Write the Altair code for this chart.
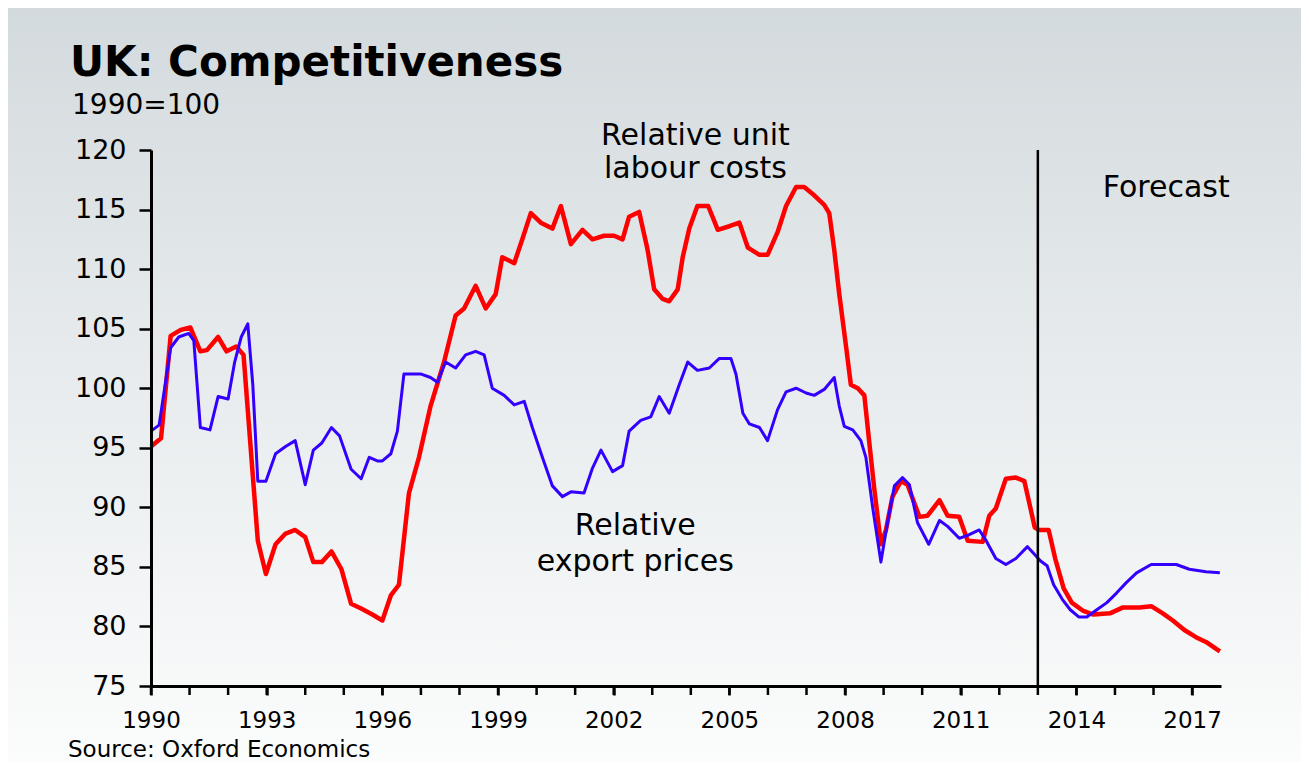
import altair as alt
import pandas as pd

# ---------------- data ----------------
red_years = [1990.00, 1990.26, 1990.51, 1990.77, 1991.02, 1991.28, 1991.45, 1991.74, 1991.96, 1992.21,
             1992.40, 1992.77, 1992.98, 1993.23, 1993.49, 1993.74, 1994.00, 1994.21, 1994.43, 1994.68,
             1994.94, 1995.19, 1995.45, 1995.74, 1996.00, 1996.22, 1996.43, 1996.69, 1996.95, 1997.25,
             1997.60, 1997.90, 1998.12, 1998.42, 1998.68, 1998.94, 1999.11, 1999.42, 1999.63, 1999.85,
             2000.11, 2000.41, 2000.63, 2000.89, 2001.19, 2001.45, 2001.75, 2002.01, 2002.23, 2002.40,
             2002.66, 2002.88, 2003.05, 2003.27, 2003.44, 2003.66, 2003.79, 2003.96, 2004.17, 2004.45,
             2004.70, 2005.00, 2005.26, 2005.48, 2005.78, 2005.99, 2006.25, 2006.47, 2006.73, 2006.94,
             2007.20, 2007.46, 2007.59, 2007.72, 2007.85, 2008.03, 2008.15, 2008.33, 2008.50, 2008.63,
             2008.76, 2008.93, 2009.06, 2009.23, 2009.45, 2009.62, 2009.93, 2010.14, 2010.45, 2010.66,
             2010.96, 2011.18, 2011.57, 2011.74, 2011.91, 2012.17, 2012.43, 2012.65, 2012.81, 2012.92,
             2013.03, 2013.28, 2013.45, 2013.67, 2013.88, 2014.18, 2014.44, 2014.87, 2015.21, 2015.64,
             2015.94, 2016.24, 2016.50, 2016.80, 2017.10, 2017.36, 2017.72]
red_values = [95.1, 95.8, 104.4, 104.9, 105.1, 103.1, 103.2, 104.3, 103.1, 103.5,
              102.8, 87.2, 84.4, 86.9, 87.8, 88.1, 87.5, 85.4, 85.4, 86.3,
              84.8, 81.9, 81.5, 81.0, 80.5, 82.6, 83.5, 91.2, 94.2, 98.5,
              102.2, 106.1, 106.7, 108.6, 106.7, 107.9, 111.0, 110.5, 112.5, 114.7,
              113.9, 113.4, 115.3, 112.1, 113.3, 112.5, 112.8, 112.8, 112.5, 114.4,
              114.8, 111.6, 108.3, 107.5, 107.3, 108.3, 111.0, 113.4, 115.3, 115.3,
              113.3, 113.6, 113.9, 111.8, 111.2, 111.2, 113.1, 115.3, 116.9, 116.9,
              116.2, 115.4, 114.7, 111.6, 107.9, 103.4, 100.3, 100.0, 99.4, 95.4,
              91.5, 86.9, 88.1, 90.9, 92.2, 91.9, 89.2, 89.3, 90.6, 89.3,
              89.2, 87.2, 87.1, 89.3, 89.9, 92.4, 92.5, 92.2, 89.9, 88.3,
              88.1, 88.1, 85.7, 83.2, 82.0, 81.3, 81.0, 81.1, 81.6, 81.6,
              81.7, 81.1, 80.5, 79.7, 79.1, 78.7, 77.9]

blue_years = [1990.00, 1990.21, 1990.51, 1990.72, 1990.98, 1991.11, 1991.28, 1991.53, 1991.74, 1992.00,
              1992.17, 1992.34, 1992.51, 1992.64, 1992.77, 1992.98, 1993.23, 1993.49, 1993.74, 1994.00,
              1994.21, 1994.43, 1994.68, 1994.89, 1995.19, 1995.45, 1995.66, 1995.87, 1996.00, 1996.22,
              1996.39, 1996.56, 1996.99, 1997.25, 1997.43, 1997.64, 1997.90, 1998.16, 1998.42, 1998.64,
              1998.85, 1999.16, 1999.42, 1999.68, 1999.89, 2000.15, 2000.41, 2000.67, 2000.89, 2001.23,
              2001.45, 2001.67, 2001.97, 2002.23, 2002.40, 2002.70, 2002.96, 2003.18, 2003.44, 2003.70,
              2003.92, 2004.17, 2004.48, 2004.74, 2005.04, 2005.17, 2005.35, 2005.52, 2005.78, 2005.99,
              2006.25, 2006.47, 2006.73, 2006.99, 2007.20, 2007.46, 2007.72, 2007.85, 2007.98, 2008.20,
              2008.41, 2008.54, 2008.72, 2008.93, 2009.10, 2009.28, 2009.49, 2009.67, 2009.88, 2010.17,
              2010.45, 2010.66, 2010.96, 2011.22, 2011.48, 2011.66, 2011.91, 2012.17, 2012.43, 2012.73,
              2012.90, 2013.07, 2013.24, 2013.41, 2013.63, 2013.84, 2014.06, 2014.27, 2014.53, 2014.79,
              2015.04, 2015.30, 2015.56, 2015.94, 2016.59, 2016.93, 2017.36, 2017.72]
blue_values = [96.4, 96.9, 103.4, 104.3, 104.6, 104.0, 96.7, 96.5, 99.3, 99.1,
               102.2, 104.3, 105.4, 100.3, 92.2, 92.2, 94.5, 95.1, 95.6, 91.9,
               94.8, 95.4, 96.7, 96.0, 93.2, 92.4, 94.2, 93.9, 93.9, 94.5,
               96.4, 101.2, 101.2, 100.9, 100.5, 102.2, 101.7, 102.8, 103.1, 102.8,
               100.0, 99.4, 98.6, 98.9, 96.7, 94.2, 91.8, 90.9, 91.3, 91.2,
               93.3, 94.8, 93.0, 93.5, 96.4, 97.3, 97.6, 99.3, 97.9, 100.3,
               102.2, 101.5, 101.7, 102.5, 102.5, 101.2, 97.9, 97.0, 96.7, 95.6,
               98.2, 99.7, 100.0, 99.6, 99.4, 99.9, 100.9, 98.5, 96.8, 96.5,
               95.6, 94.2, 89.9, 85.4, 88.7, 91.8, 92.5, 91.9, 88.7, 86.9,
               88.9, 88.4, 87.4, 87.7, 88.1, 87.2, 85.7, 85.2, 85.7, 86.7,
               86.1, 85.5, 85.1, 83.5, 82.3, 81.4, 80.8, 80.8, 81.4, 82.0,
               82.8, 83.7, 84.5, 85.2, 85.2, 84.8, 84.6, 84.5]

minor_tick_years = list(range(1990, 2018))
label_years = list(range(1990, 2018, 3))
y_ticks = list(range(75, 121, 5))
x_domain = [1990, 2017.75]
y_domain = [75, 120]
forecast_year = [2013]

ann_text = ["Relative unit", "labour costs", "Relative", "export prices", "Forecast"]
ann_x = [2004.12, 2004.12, 2002.56, 2002.56, 2016.33]
ann_y = [120.42, 117.65, 87.68, 84.68, 116.05]

title_text = "UK: Competitiveness"
subtitle_text = "1990=100"
source_text = "Source: Oxford Economics"

# ---------------- chart ----------------
W, H = 1070, 536
PAD = dict(left=143, top=142, right=80, bottom=76)
FONT = "DejaVu Sans"
TICK = 9

red_df = pd.DataFrame({"year": red_years, "value": red_values})
blue_df = pd.DataFrame({"year": blue_years, "value": blue_values})
rule_df = pd.DataFrame({"year": forecast_year, "value": [y_domain[1]], "value2": [y_domain[0]]})
ann_df = pd.DataFrame({"year": ann_x, "value": ann_y, "text": ann_text})
minor_df = pd.DataFrame({"year": minor_tick_years})
one = pd.DataFrame({"k": [0]})

x_scale = alt.Scale(domain=x_domain, nice=False, zero=False)
y_scale = alt.Scale(domain=y_domain, nice=False, zero=False)

x_axis = alt.Axis(values=label_years, title=None, grid=False, format="d",
                  domainColor="black", domainWidth=3, tickColor="black", tickWidth=2.5,
                  tickSize=TICK, labelFont=FONT, labelFontSize=23, labelColor="black",
                  labelPadding=14, labelOverlap=False, labelFlush=False, zindex=1)
y_axis = alt.Axis(values=y_ticks, title=None, grid=False,
                  domainColor="black", domainWidth=3, tickColor="black", tickWidth=2.5,
                  tickSize=12, labelFont=FONT, labelFontSize=27, labelColor="black",
                  labelPadding=13, labelOverlap=False, labelFlush=False, zindex=1)

bg = alt.Chart(one).mark_rect(
    fill=alt.Gradient(gradient="linear",
                      stops=[alt.GradientStop(color="#d3dadd", offset=0),
                             alt.GradientStop(color="#e8ecee", offset=0.5),
                             alt.GradientStop(color="#fbfcfc", offset=1)],
                      x1=0, x2=0, y1=0, y2=1)
).encode(x=alt.value(-PAD["left"]), x2=alt.value(W + PAD["right"]),
         y=alt.value(-PAD["top"]), y2=alt.value(H + PAD["bottom"]))

red = alt.Chart(red_df).mark_line(color="#ff0000", strokeWidth=4.5, strokeJoin="round").encode(
    x=alt.X("year:Q", scale=x_scale, axis=x_axis),
    y=alt.Y("value:Q", scale=y_scale, axis=y_axis),
)
blue = alt.Chart(blue_df).mark_line(color="#3300ff", strokeWidth=3, strokeJoin="round").encode(
    x=alt.X("year:Q", title=None), y=alt.Y("value:Q", title=None)
)
minor = alt.Chart(minor_df).mark_rule(color="black", strokeWidth=2.5).encode(
    x=alt.X("year:Q", title=None), y=alt.value(H), y2=alt.value(H + TICK)
)
rule = alt.Chart(rule_df).mark_rule(color="black", strokeWidth=2.5).encode(
    x=alt.X("year:Q", title=None), y=alt.Y("value:Q", title=None), y2="value2:Q"
)
ann = alt.Chart(ann_df).mark_text(font=FONT, fontSize=30, align="center",
                                  baseline="alphabetic", color="black").encode(
    x=alt.X("year:Q", title=None), y=alt.Y("value:Q", title=None), text="text:N"
)
title = alt.Chart(one).mark_text(text=title_text, font=FONT, fontSize=42, fontWeight="bold",
                                 align="left", baseline="alphabetic", color="black").encode(
    x=alt.value(-81), y=alt.value(-74))
subtitle = alt.Chart(one).mark_text(text=subtitle_text, font=FONT, fontSize=28,
                                    align="left", baseline="alphabetic", color="black").encode(
    x=alt.value(-79), y=alt.value(-36))
source = alt.Chart(one).mark_text(text=source_text, font=FONT, fontSize=23,
                                  align="left", baseline="alphabetic", color="black").encode(
    x=alt.value(-83), y=alt.value(H + 71))

chart = alt.layer(bg, red, blue, minor, rule, ann, title, subtitle, source).properties(
    width=W, height=H, padding=PAD, autosize=alt.AutoSizeParams(type="none"),
    background="white",
).configure_view(stroke=None)

chart.save("out.html", embed_options={"renderer": "svg", "actions": False})
